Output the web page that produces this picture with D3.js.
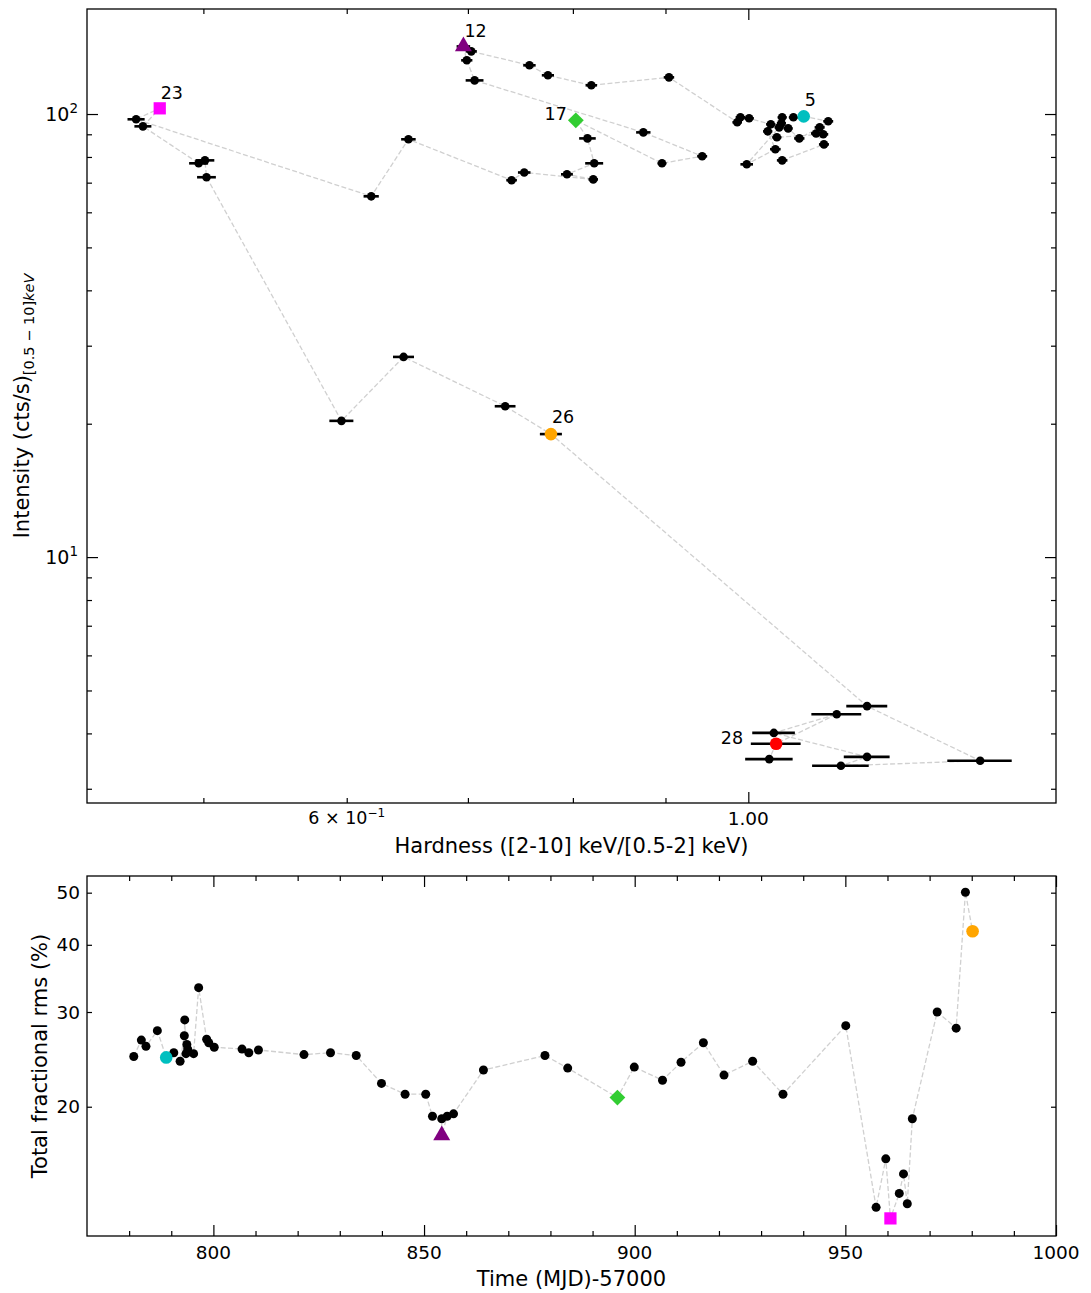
<!DOCTYPE html>
<html><head><meta charset="utf-8">
<script src="https://cdn.jsdelivr.net/npm/d3@7"></script>
<style>
body{margin:0;background:#fff}
text{font-family:"DejaVu Sans",sans-serif;fill:#000}
</style>
</head><body>
<script>
// ---------------- DATA: top panel (hardness-intensity diagram, time ordered) ----------------
const hardness = [1.044, 1.101, 1.090, 1.107, 1.073, 1.059, 1.044, 1.043, 1.052, 1.067, 1.095, 1.100, 1.037, 1.025, 1.035, 0.998, 1.040, 1.029, 1.001, 0.990, 0.986, 0.904, 0.819, 0.775, 0.757, 0.703, 0.696, 0.699, 0.706, 0.875, 0.943, 0.896, 0.803, 0.815, 0.822, 0.794, 0.821, 0.752, 0.740, 0.649, 0.619, 0.459, 0.473, 0.463, 0.497, 0.501, 0.502, 0.596, 0.645, 0.734, 0.778, 1.163, 1.343, 1.125, 1.163, 1.033, 1.119, 1.036, 1.027];
const hardnessErr = [0.007, 0.007, 0.007, 0.007, 0.007, 0.006, 0.006, 0.006, 0.006, 0.007, 0.007, 0.007, 0.006, 0.006, 0.007, 0.008, 0.006, 0.006, 0.006, 0.006, 0.006, 0.006, 0.006, 0.006, 0.006, 0.005, 0.006, 0.005, 0.008, 0.008, 0.006, 0.005, 0.006, 0.0086, 0.0094, 0.006, 0.005, 0.006, 0.005, 0.006, 0.006, 0.005, 0.003, 0.005, 0.006, 0.006, 0.006, 0.0091, 0.0086, 0.0097, 0.0109, 0.0303, 0.055, 0.0405, 0.0339, 0.028, 0.0355, 0.0328, 0.031];
const intensity = [78.6, 85.4, 90.4, 96.3, 98.8, 98.3, 98.3, 95.3, 92.8, 88.1, 93.3, 90.0, 88.6, 91.4, 83.3, 77.0, 93.3, 94.8, 97.8, 98.3, 95.8, 121.0, 116.1, 122.3, 128.8, 138.5, 142.1, 132.2, 119.1, 90.9, 80.3, 77.4, 96.8, 88.1, 77.4, 73.1, 71.2, 73.8, 70.9, 87.7, 65.2, 97.3, 103.0, 93.8, 77.4, 78.6, 72.0, 20.3, 28.3, 21.9, 18.95, 4.61, 3.47, 3.38, 3.54, 4.01, 4.42, 3.79, 3.50];
// highlighted observations in top panel (index into arrays above) and their labels
const topHighlightIdx = [4, 26, 32, 42, 50, 57];
const topHighlightLabel = ["5", "12", "17", "23", "26", "28"];

// ---------------- DATA: bottom panel (rms vs time) ----------------
const time = [781.1, 782.9, 784.0, 786.7, 788.8, 790.6, 792.1, 793.1, 793.2, 793.5, 793.7, 793.9, 795.3, 796.5, 798.4, 798.9, 800.2, 806.8, 808.4, 810.7, 821.5, 827.8, 833.9, 839.9, 845.5, 850.4, 852.0, 854.2, 854.2, 855.5, 857.0, 864.1, 878.7, 884.1, 895.9, 899.9, 906.6, 911.0, 916.3, 921.2, 928.0, 935.2, 950.1, 957.3, 959.6, 960.7, 962.8, 963.8, 964.7, 965.9, 971.8, 976.3, 978.5, 980.2];
const rms = [24.8, 26.6, 25.9, 27.7, 24.7, 25.2, 24.3, 27.1, 29.0, 25.1, 26.1, 25.6, 25.1, 33.3, 26.7, 26.3, 25.8, 25.6, 25.2, 25.5, 25.0, 25.2, 24.9, 22.1, 21.1, 21.1, 19.2, 19.0, 17.7, 19.2, 19.4, 23.4, 24.9, 23.6, 20.8, 23.7, 22.4, 24.2, 26.3, 22.9, 24.3, 21.1, 28.3, 13.0, 16.0, 12.4, 13.8, 15.0, 13.2, 19.0, 30.0, 28.0, 50.1, 42.4];
const botHighlightIdx = [4, 28, 34, 45, 53];
const botHighlightKey = ["5", "12", "17", "23", "26"];

// tick values
const topXMajor = [1.0], topXMinor = [0.5, 0.6, 0.7, 0.8, 0.9];
const topYMajor = [10, 100], topYMinor = [3, 4, 5, 6, 7, 8, 9, 20, 30, 40, 50, 60, 70, 80, 90];
const botXMajor = [800, 850, 900, 950, 1000], botXMinor = [780, 790, 810, 820, 830, 840, 860, 870, 880, 890, 910, 920, 930, 940, 960, 970, 980, 990];
const botYTicks = [20, 30, 40, 50];

// ---------------- STYLE ----------------
const markerStyle = {
  "5":  {type: "circle",   color: "#00BFBF"},
  "12": {type: "triangle", color: "#800080"},
  "17": {type: "diamond",  color: "#32CD32"},
  "23": {type: "square",   color: "#FF00FF"},
  "26": {type: "circle",   color: "#FFA500"},
  "28": {type: "circle",   color: "#FF0000"}
};
const labelOffset = {
  "5": [1, -10, "start"], "12": [1, -9, "start"], "17": [-9, 0, "end"],
  "23": [1, -9, "start"], "26": [1, -11, "start"], "28": [-33, 0, "end"]
};
const tickFont = 18.5, axisFont = 21, annFont = 17.5;

const W = 1091, H = 1293;
const svg = d3.select("body").append("svg").attr("width", W).attr("height", H);
svg.append("rect").attr("width", W).attr("height", H).attr("fill", "#fff");

const TP = {l: 87, r: 1056, t: 9, b: 803};
const BP = {l: 87, r: 1056, t: 876, b: 1236};

const xTop = d3.scaleLog().domain([0.4312, 1.479]).range([TP.l, TP.r]);
const yTop = d3.scaleLog().domain([2.786, 172.6]).range([TP.b, TP.t]);
const xBot = d3.scaleLinear().domain([770, 1000]).range([BP.l, BP.r]);
const yBot = d3.scaleLog().domain([11.5, 53.7]).range([BP.b, BP.t]);

function tickAxis(axisFn, scale, values, len, tx, ty) {
  svg.append("g").attr("transform", `translate(${tx},${ty})`)
    .call(axisFn(scale).tickValues(values).tickSizeInner(-len).tickSizeOuter(0).tickFormat(""))
    .call(g => g.select(".domain").remove())
    .call(g => g.selectAll(".tick line").attr("stroke", "#000").attr("stroke-width", 1.2));
}

function symbolPath(type) {
  if (type === "circle") return d3.symbol(d3.symbolCircle, 125)();
  if (type === "triangle") return d3.symbol(d3.symbolTriangle, 125)();
  if (type === "square") return d3.symbol(d3.symbolSquare, 150)();
  if (type === "diamond") return d3.symbol(d3.symbolSquare, 125)();
}

const dashColor = "#d0d0d0";

// ================= TOP PANEL =================
const topIdx = d3.range(hardness.length);
const topLine = d3.line().x(i => xTop(hardness[i])).y(i => yTop(intensity[i]));
svg.append("path").attr("d", topLine(topIdx)).attr("fill", "none")
  .attr("stroke", dashColor).attr("stroke-width", 1.3).attr("stroke-dasharray", "5,2.4");

// error bars
svg.append("g").selectAll("line").data(topIdx).join("line")
  .attr("x1", i => xTop(hardness[i] - hardnessErr[i]))
  .attr("x2", i => xTop(hardness[i] + hardnessErr[i]))
  .attr("y1", i => yTop(intensity[i])).attr("y2", i => yTop(intensity[i]))
  .attr("stroke", "#000").attr("stroke-width", 2.6);

svg.append("g").selectAll("circle").data(topIdx.filter(i => !topHighlightIdx.includes(i))).join("circle")
  .attr("cx", i => xTop(hardness[i])).attr("cy", i => yTop(intensity[i]))
  .attr("r", 4.3).attr("fill", "#000");

topHighlightIdx.forEach((i, k) => {
  const lab = topHighlightLabel[k], st = markerStyle[lab];
  const x = xTop(hardness[i]), y = yTop(intensity[i]);
  svg.append("path").attr("d", symbolPath(st.type))
    .attr("transform", `translate(${x},${y})` + (st.type === "diamond" ? " rotate(45)" : ""))
    .attr("fill", st.color);
  const o = labelOffset[lab];
  svg.append("text").attr("x", x + o[0]).attr("y", y + o[1]).attr("text-anchor", o[2])
    .attr("font-size", annFont).text(lab);
});

// ticks
tickAxis(d3.axisBottom, xTop, topXMajor, 11, 0, TP.b);
tickAxis(d3.axisBottom, xTop, topXMinor, 5, 0, TP.b);
tickAxis(d3.axisTop, xTop, topXMajor, 11, 0, TP.t);
tickAxis(d3.axisTop, xTop, topXMinor, 5, 0, TP.t);
tickAxis(d3.axisLeft, yTop, topYMajor, 11, TP.l, 0);
tickAxis(d3.axisLeft, yTop, topYMinor, 5, TP.l, 0);
tickAxis(d3.axisRight, yTop, topYMajor, 11, TP.r, 0);
tickAxis(d3.axisRight, yTop, topYMinor, 5, TP.r, 0);

svg.append("rect").attr("x", TP.l).attr("y", TP.t).attr("width", TP.r - TP.l).attr("height", TP.b - TP.t)
  .attr("fill", "none").attr("stroke", "#000").attr("stroke-width", 1.3);

// tick labels top panel
{
  const t1 = svg.append("text").attr("x", xTop(0.6)).attr("y", 824).attr("text-anchor", "middle").attr("font-size", tickFont - 1);
  t1.append("tspan").text("6 × 10");
  t1.append("tspan").attr("dy", -7).attr("font-size", 12).text("−1");
  svg.append("text").attr("x", xTop(1.0)).attr("y", 825).attr("text-anchor", "middle").attr("font-size", tickFont).text("1.00");
  [[100, "2"], [10, "1"]].forEach(([v, e]) => {
    const t = svg.append("text").attr("x", 78).attr("y", yTop(v) + 7).attr("text-anchor", "end").attr("font-size", 19);
    t.append("tspan").text("10");
    t.append("tspan").attr("dy", -8).attr("font-size", 13.5).text(e);
  });
  svg.append("text").attr("x", (TP.l + TP.r) / 2).attr("y", 853).attr("text-anchor", "middle")
    .attr("font-size", axisFont).text("Hardness ([2-10] keV/[0.5-2] keV)");
  const yl = svg.append("text").attr("transform", `translate(29,${(TP.t + TP.b) / 2}) rotate(-90)`)
    .attr("text-anchor", "middle").attr("font-size", axisFont);
  yl.append("tspan").text("Intensity (cts/s)");
  yl.append("tspan").attr("dy", 5).attr("font-size", 14.5).text("[0.5 − 10]");
  yl.append("tspan").attr("font-size", 14.5).attr("font-style", "italic").text("keV");
}

// ================= BOTTOM PANEL =================
const botIdx = d3.range(time.length);
const botLine = d3.line().x(i => xBot(time[i])).y(i => yBot(rms[i]));
svg.append("path").attr("d", botLine(botIdx)).attr("fill", "none")
  .attr("stroke", dashColor).attr("stroke-width", 1.3).attr("stroke-dasharray", "5,2.4");

svg.append("g").selectAll("circle").data(botIdx.filter(i => !botHighlightIdx.includes(i))).join("circle")
  .attr("cx", i => xBot(time[i])).attr("cy", i => yBot(rms[i]))
  .attr("r", 4.5).attr("fill", "#000");

botHighlightIdx.forEach((i, k) => {
  const st = markerStyle[botHighlightKey[k]];
  svg.append("path").attr("d", symbolPath(st.type))
    .attr("transform", `translate(${xBot(time[i])},${yBot(rms[i])})` + (st.type === "diamond" ? " rotate(45)" : ""))
    .attr("fill", st.color);
});

tickAxis(d3.axisBottom, xBot, botXMajor, 11, 0, BP.b);
tickAxis(d3.axisBottom, xBot, botXMinor, 5, 0, BP.b);
tickAxis(d3.axisTop, xBot, botXMajor, 11, 0, BP.t);
tickAxis(d3.axisTop, xBot, botXMinor, 5, 0, BP.t);
tickAxis(d3.axisLeft, yBot, botYTicks, 5, BP.l, 0);
tickAxis(d3.axisRight, yBot, botYTicks, 5, BP.r, 0);

svg.append("rect").attr("x", BP.l).attr("y", BP.t).attr("width", BP.r - BP.l).attr("height", BP.b - BP.t)
  .attr("fill", "none").attr("stroke", "#000").attr("stroke-width", 1.3);

botXMajor.forEach(v => {
  svg.append("text").attr("x", xBot(v)).attr("y", 1259).attr("text-anchor", "middle").attr("font-size", tickFont).text(v);
});
botYTicks.forEach(v => {
  svg.append("text").attr("x", 80).attr("y", yBot(v) + 6.5).attr("text-anchor", "end").attr("font-size", tickFont).text(v);
});
svg.append("text").attr("x", (BP.l + BP.r) / 2).attr("y", 1286).attr("text-anchor", "middle")
  .attr("font-size", axisFont).text("Time (MJD)-57000");
svg.append("text").attr("transform", `translate(47,${(BP.t + BP.b) / 2}) rotate(-90)`)
  .attr("text-anchor", "middle").attr("font-size", axisFont).text("Total fractional rms (%)");
</script>
</body></html>
